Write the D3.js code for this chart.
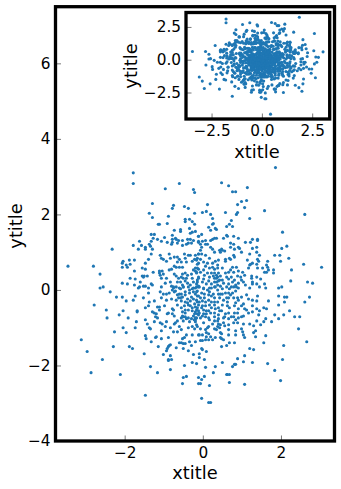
<!DOCTYPE html>
<html><head><meta charset="utf-8">
<script src="https://cdnjs.cloudflare.com/ajax/libs/d3/7.8.5/d3.min.js"></script>
<style>html,body{margin:0;padding:0;background:#fff}svg{display:block}text{font-family:"DejaVu Sans",sans-serif;fill:#000}</style>
</head><body><svg id="c" width="341" height="489"></svg>
<script>
const upperLeft=[[-1.78,3.10],[-1.78,2.82],[-0.96,2.68],[-0.60,2.82],[-0.24,2.66],[-0.21,2.58],[-1.29,2.29],[-0.75,2.24],[-0.78,2.16],[-0.47,2.21],[-0.37,2.16],[-1.37,2.03],[-0.21,2.03],[-1.29,1.92],[-0.88,1.95],[-1.14,1.74],[-1.11,1.74],[-0.91,1.76],[-0.45,1.87],[-0.45,1.81],[-0.34,1.87],[-0.27,1.81],[-0.21,1.74],[-0.34,1.63],[-0.57,1.60],[-0.57,1.55],[-0.73,1.58],[-0.19,1.55],[-0.27,1.53],[-0.32,1.50],[-0.11,1.42],[-1.32,1.47],[-1.24,1.47],[-0.78,1.45],[-1.27,1.37],[-1.16,1.34],[-1.06,1.29],[-0.98,1.39],[-0.78,1.34],[-0.70,1.37],[-0.68,1.34],[-0.78,1.26],[-0.80,1.21],[-0.62,1.31],[-0.52,1.31],[-0.39,1.34],[-0.32,1.34],[-0.24,1.31],[-0.11,1.29],[-1.62,1.29],[-1.57,1.18],[-1.78,1.18],[-1.65,1.08],[-1.47,1.13],[-1.47,1.08],[-1.37,1.21],[-1.34,1.16],[-1.32,1.29],[-1.29,1.08],[-0.91,1.26],[-0.65,1.24],[-0.52,1.18],[-0.42,1.21],[-0.37,1.24],[-0.29,1.24],[-2.32,1.08],[-1.32,0.95],[-1.39,0.81],[-1.47,0.71],[-1.09,0.92],[-1.06,0.84],[-1.01,0.81],[-0.93,0.76],[-0.86,0.95],[-0.83,0.84],[-0.73,0.87],[-0.65,0.87],[-0.60,0.81],[-0.47,0.95],[-0.37,0.92],[-0.32,0.92],[-0.45,0.84],[-0.19,0.92],[-0.11,0.95],[-0.21,0.81],[-0.27,0.76],[-0.14,0.84],[-0.65,0.74],[-0.55,0.74],[-0.42,0.74],[-0.52,0.60],[-0.73,0.63],[-0.68,0.60],[-0.60,0.60],[-0.80,0.55],[-0.86,0.53],[-0.14,0.68],[-0.19,0.58],[-0.24,0.53],[-0.16,0.47],[-0.11,0.55],[-2.04,0.76],[-2.06,0.71],[-2.06,0.60],[-1.96,0.66],[-1.93,0.60],[-1.88,0.79],[-1.86,0.68],[-1.75,0.79],[-1.75,0.50],[-1.55,0.58],[-1.47,0.55],[-3.45,0.63],[-2.80,0.63],[-2.63,0.42],[-2.63,0.05],[-2.55,0.08],[-1.86,0.31],[-1.73,0.29],[-1.60,0.21],[-1.55,0.37],[-1.50,0.37],[-1.42,0.37],[-1.52,0.34],[-2.06,0.18],[-1.93,0.16],[-1.75,0.13],[-1.65,0.05],[-1.62,0.08],[-1.52,0.10],[-1.47,0.10],[-1.39,0.05],[-1.32,0.16],[-1.29,0.13],[-1.27,0.47],[-1.11,0.50],[-1.11,0.45],[-1.09,0.39],[-1.04,0.50],[-1.01,0.42],[-1.06,0.31],[-0.93,0.31],[-0.96,0.18],[-0.83,0.21],[-1.06,0.08],[-0.73,0.42],[-0.68,0.37],[-0.62,0.31],[-0.65,0.21],[-0.55,0.34],[-0.52,0.42],[-0.45,0.45],[-0.39,0.39],[-0.42,0.31],[-0.50,0.31],[-0.57,0.21],[-0.45,0.24],[-0.52,0.13],[-0.50,0.08],[-0.39,0.18],[-0.29,0.42],[-0.27,0.31],[-0.19,0.50],[-0.11,0.34],[-0.14,0.26],[-0.24,0.21],[-0.16,0.16],[-0.32,0.13],[-0.60,0.05],[-0.75,0.08],[-0.80,0.10],[-0.11,0.08],[-0.24,0.05]];
const upperRight=[[1.86,3.24],[0.48,2.84],[0.66,2.76],[1.14,2.71],[0.76,2.60],[0.84,2.60],[1.12,2.37],[0.99,2.34],[0.89,2.26],[0.12,2.26],[1.07,2.18],[1.58,2.10],[-0.01,2.05],[0.09,2.08],[0.20,2.00],[0.58,2.05],[0.89,2.05],[0.86,2.00],[2.61,2.00],[0.25,1.89],[1.20,1.89],[0.73,1.84],[0.27,1.76],[0.25,1.74],[0.68,1.74],[0.61,1.68],[0.76,1.68],[0.15,1.66],[0.20,1.58],[0.32,1.63],[0.35,1.60],[2.04,1.53],[0.61,1.45],[0.63,1.42],[0.79,1.42],[-0.03,1.47],[-0.11,1.42],[0.91,1.37],[0.53,1.37],[0.25,1.34],[0.30,1.37],[0.35,1.37],[0.20,1.31],[0.07,1.31],[-0.01,1.29],[1.27,1.34],[1.40,1.34],[1.40,1.31],[1.09,1.26],[1.22,1.26],[0.71,1.24],[0.79,1.21],[-0.11,1.26],[-0.06,1.21],[0.07,1.21],[0.12,1.21],[0.20,1.13],[0.25,1.08],[-0.03,1.13],[0.71,1.13],[0.81,1.08],[0.91,1.13],[0.94,1.10],[2.15,1.16],[2.02,1.10],[1.27,1.10],[1.38,1.13],[0.30,1.00],[0.43,1.05],[0.48,1.08],[0.50,1.05],[0.56,1.03],[0.45,1.00],[-0.06,1.05],[-0.03,0.95],[-0.11,0.95],[0.07,0.92],[0.79,0.92],[0.68,0.84],[0.58,0.81],[0.71,0.81],[0.81,0.87],[0.99,1.00],[1.20,0.95],[1.38,1.00],[1.45,0.92],[1.84,0.92],[1.97,0.92],[2.20,0.84],[2.58,0.68],[3.04,0.60],[2.27,0.53],[1.66,0.76],[1.99,0.76],[1.14,0.79],[1.40,0.81],[1.43,0.76],[1.38,0.68],[1.27,0.71],[1.20,0.66],[1.17,0.58],[1.22,0.68],[1.40,0.58],[1.53,0.58],[1.63,0.66],[1.66,0.60],[1.58,0.47],[1.63,0.47],[1.68,0.53],[1.81,0.53],[1.81,0.45],[2.25,0.24],[2.68,0.21],[2.81,0.18],[2.02,0.08],[1.94,0.05],[1.58,0.16],[1.48,0.29],[1.25,0.37],[1.25,0.31],[1.38,0.34],[1.27,0.21],[1.27,0.16],[1.38,0.16],[1.20,0.05],[1.45,0.08],[1.61,0.05],[1.09,0.13],[1.07,0.39],[1.02,0.47],[0.91,0.50],[0.86,0.60],[0.76,0.60],[0.71,0.53],[0.66,0.47],[0.58,0.76],[0.40,0.79],[0.32,0.76],[0.25,0.71],[0.12,0.71],[0.02,0.74],[0.07,0.63],[0.25,0.60],[0.38,0.66],[0.38,0.58],[0.50,0.58],[-0.11,0.71],[-0.14,0.58],[-0.06,0.47],[0.12,0.45],[0.30,0.45],[0.35,0.39],[0.40,0.45],[0.45,0.37],[0.43,0.26],[0.35,0.31],[0.27,0.37],[0.17,0.34],[0.04,0.39],[-0.11,0.31],[0.02,0.29],[0.15,0.24],[0.30,0.21],[-0.14,0.21],[0.53,0.18],[0.66,0.29],[0.61,0.34],[0.73,0.34],[0.89,0.37],[0.76,0.21],[0.84,0.13],[0.91,0.18],[0.86,0.08],[0.73,0.08],[0.61,0.08],[0.45,0.10],[0.30,0.08],[0.17,0.05],[0.02,0.05],[-0.11,0.10]];
const lowerLeft=[[-2.37,-0.05],[-2.21,-0.19],[-2.06,-0.19],[-1.96,-0.29],[-1.78,-0.27],[-1.73,-0.16],[-1.52,-0.21],[-2.78,-0.40],[-2.47,-0.53],[-2.04,-0.55],[-2.14,-0.66],[-2.45,-0.74],[-1.91,-0.74],[-1.68,-0.55],[-1.68,-0.58],[-1.47,-0.47],[-1.39,-0.42],[-1.37,-0.32],[-1.24,-0.29],[-1.39,-0.08],[-1.16,-0.45],[-1.11,-0.45],[-1.11,-0.53],[-1.29,-0.58],[-1.24,-0.61],[-1.19,-0.63],[-1.21,-0.71],[-1.16,-0.74],[-1.47,-0.79],[-1.70,-0.84],[-1.42,-0.90],[-1.37,-1.00],[-1.34,-1.03],[-1.73,-1.00],[-1.24,-0.84],[-1.09,-0.87],[-1.04,-0.90],[-0.93,-0.84],[-0.96,-0.97],[-0.83,-1.00],[-1.06,-1.08],[-2.04,-1.00],[-2.26,-1.11],[-1.96,-1.13],[-1.47,-1.21],[-1.45,-1.29],[-1.32,-1.37],[-1.21,-1.26],[-1.19,-1.24],[-1.06,-1.29],[-0.88,-1.26],[-0.75,-1.11],[-0.65,-1.11],[-0.55,-1.05],[-0.70,-0.87],[-0.65,-0.82],[-0.73,-0.90],[-0.60,-0.97],[-3.11,-1.32],[-2.96,-1.63],[-2.57,-1.84],[-2.86,-2.19],[-2.11,-2.24],[-2.29,-1.50],[-1.88,-1.50],[-1.80,-1.55],[-1.50,-1.69],[-1.34,-2.03],[-1.16,-2.19],[-1.47,-2.79],[-1.14,-1.50],[-1.01,-1.71],[-0.93,-1.61],[-0.91,-1.55],[-0.88,-1.50],[-0.86,-1.47],[-0.83,-1.45],[-0.83,-1.74],[-0.88,-1.84],[-0.88,-1.87],[-0.80,-1.84],[-0.83,-2.11],[-0.68,-1.53],[-0.60,-1.40],[-0.55,-1.40],[-0.50,-1.42],[-0.45,-1.42],[-0.50,-1.55],[-0.37,-1.61],[-0.34,-1.37],[-0.29,-1.47],[-0.19,-1.37],[-0.52,-1.29],[-0.47,-1.26],[-0.42,-1.19],[-0.27,-1.19],[-0.11,-1.19],[-0.24,-1.71],[-0.09,-1.69],[-0.27,-1.92],[-0.16,-1.95],[-0.47,-2.00],[-0.50,-2.32],[-0.42,-2.29],[-0.52,-2.48],[-0.11,-2.32],[-0.11,-2.48],[-0.09,-1.79],[-0.37,-1.00],[-0.27,-0.97],[-0.21,-1.03],[-0.14,-0.97],[-0.55,-0.74],[-0.50,-0.71],[-0.42,-0.76],[-0.34,-0.84],[-0.50,-0.82],[-0.19,-0.79],[-0.24,-0.69],[-0.16,-0.74],[-0.55,-0.47],[-0.75,-0.53],[-0.78,-0.63],[-0.73,-0.69],[-0.88,-0.61],[-0.91,-0.63],[-0.98,-0.42],[-0.78,-0.50],[-0.65,-0.40],[-0.62,-0.21],[-0.57,-0.21],[-0.80,-0.24],[-0.93,-0.27],[-1.06,-0.21],[-1.01,-0.11],[-0.93,-0.11],[-1.09,-0.05],[-0.86,-0.08],[-0.78,0.00],[-0.70,-0.03],[-0.60,-0.11],[-0.45,-0.05],[-0.34,-0.08],[-0.52,-0.19],[-0.39,-0.24],[-0.29,-0.19],[-0.19,-0.11],[-0.11,-0.16],[-0.39,-0.34],[-0.32,-0.42],[-0.21,-0.37],[-0.14,-0.47],[-0.37,-0.53],[-0.27,-0.55],[-0.52,-0.58],[-0.45,-0.61],[-0.11,-0.55],[-0.19,-0.58],[-0.14,-0.32]];
const lowerRight=[[1.94,-0.16],[2.09,-0.19],[2.15,-0.19],[2.73,-0.19],[2.61,-0.32],[2.09,-0.32],[1.94,-0.40],[1.68,-0.29],[2.22,-0.55],[1.84,-0.66],[2.07,-0.66],[2.35,-0.71],[2.48,-0.71],[1.94,-0.76],[1.76,-0.84],[1.61,-0.76],[1.56,-0.84],[1.48,-0.92],[1.38,-0.82],[1.30,-0.95],[1.20,-0.90],[1.04,-0.90],[1.35,-1.08],[1.30,-1.13],[1.35,-1.24],[1.61,-1.21],[2.45,-1.03],[2.66,-1.37],[2.07,-1.47],[1.56,-1.40],[1.07,-1.26],[1.04,-1.19],[1.02,-1.11],[0.99,-1.03],[0.84,-1.08],[0.84,-1.19],[0.66,-0.92],[0.66,-1.05],[0.66,-1.19],[0.68,-1.40],[0.81,-1.40],[0.61,-1.47],[0.48,-1.50],[1.20,-1.55],[1.30,-1.58],[1.07,-1.74],[0.89,-1.82],[1.04,-1.90],[1.27,-1.92],[0.84,-1.97],[0.81,-1.97],[0.76,-2.03],[1.66,-1.95],[2.04,-1.84],[1.84,-2.13],[1.99,-2.40],[1.07,-2.50],[0.68,-2.45],[0.61,-2.24],[0.63,-2.24],[0.68,-2.24],[0.50,-1.92],[0.32,-2.03],[0.27,-2.19],[0.07,-2.05],[0.04,-1.84],[0.09,-1.63],[-0.01,-1.58],[-0.03,-1.55],[0.04,-2.29],[-0.03,-2.37],[-0.06,-2.48],[0.17,-2.53],[-0.03,-2.87],[0.15,-2.98],[0.20,-2.98],[-0.06,-1.34],[-0.01,-1.34],[0.07,-1.32],[0.15,-1.32],[0.25,-1.32],[0.32,-1.26],[0.45,-1.26],[0.48,-1.29],[0.53,-1.32],[-0.09,-1.19],[-0.01,-1.19],[0.09,-1.13],[0.15,-1.16],[0.09,-1.24],[0.20,-1.24],[0.48,-1.16],[0.45,-1.13],[-0.06,-1.03],[0.07,-1.05],[0.12,-1.00],[0.15,-0.97],[0.30,-1.03],[0.35,-1.05],[0.38,-0.97],[0.40,-0.90],[0.45,-0.92],[0.43,-1.00],[0.25,-0.90],[0.56,-0.95],[0.38,-0.82],[0.17,-0.79],[0.02,-0.87],[-0.16,-0.92],[-0.19,-0.84],[-0.22,-0.79],[-0.01,-0.69],[0.07,-0.71],[0.02,-0.63],[-0.16,-0.53],[-0.01,-0.42],[0.09,-0.55],[0.15,-0.55],[-0.11,-0.40],[0.02,-0.53],[0.32,-0.50],[0.40,-0.47],[0.30,-0.32],[0.17,-0.40],[0.07,-0.32],[0.04,-0.21],[-0.06,-0.21],[-0.14,-0.16],[0.17,-0.05],[0.15,-0.13],[0.27,-0.11],[0.30,-0.21],[0.43,-0.21],[0.45,-0.11],[0.61,-0.21],[0.66,-0.21],[0.58,-0.08],[0.50,0.03],[0.68,0.03],[0.79,0.08],[0.91,0.05],[0.89,-0.21],[0.99,-0.19],[0.91,-0.27],[1.12,-0.13],[1.27,-0.27],[1.40,-0.16],[1.38,-0.29],[1.17,-0.24],[1.04,-0.37],[0.99,-0.42],[1.07,-0.50],[1.12,-0.53],[1.27,-0.42],[1.17,-0.61],[1.27,-0.58],[1.38,-0.50],[1.43,-0.66],[1.45,-0.55],[1.56,-0.47],[1.63,-0.50],[0.84,-0.34],[0.81,-0.42],[0.91,-0.50],[0.89,-0.61],[0.81,-0.61],[0.79,-0.71],[0.84,-0.79],[0.91,-0.74],[1.04,-0.69],[0.99,-0.71],[0.89,-0.87],[0.63,-0.42],[0.68,-0.47],[0.48,-0.55],[0.58,-0.63],[0.56,-0.71],[0.53,-0.74],[0.43,-0.55],[0.30,-0.71],[-0.14,-0.63],[-0.19,-0.74]];
const coreLeft=[[-0.75,0.05],[-0.68,0.08],[-0.57,0.03],[-0.50,0.08],[-0.37,0.08],[-0.27,0.03],[-0.16,0.08],[-0.73,-0.05],[-0.65,-0.13],[-0.55,-0.11],[-0.45,-0.13],[-0.34,0.00],[-0.24,-0.05],[-0.14,-0.03],[-0.68,-0.27],[-0.55,-0.29],[-0.45,-0.32],[-0.32,-0.29],[-0.24,-0.24],[-0.47,-0.42],[-0.37,-0.40],[-0.27,-0.47],[-0.19,-0.45],[-0.45,-0.53],[-0.52,-0.69],[-0.45,-0.71],[-0.37,-0.74],[-0.29,-0.76],[-0.21,-0.63],[-0.11,-0.66]];
const coreLowerRight=[[-0.19,0.05],[-0.09,0.08],[0.02,0.03],[0.12,0.00],[0.22,0.05],[0.32,0.08],[-0.16,-0.05],[-0.03,-0.08],[0.04,-0.11],[0.22,-0.16],[0.38,0.00],[0.40,-0.11],[-0.16,-0.27],[-0.09,-0.32],[-0.01,-0.29],[0.15,-0.27],[0.22,-0.32],[0.38,-0.32],[-0.03,-0.47],[0.07,-0.42],[0.22,-0.47],[0.30,-0.40],[-0.09,-0.61],[0.09,-0.63],[0.20,-0.61],[0.30,-0.61],[0.40,-0.66],[-0.06,-0.74],[0.15,-0.74],[0.40,-0.76],[0.30,-0.82],[0.53,-0.87],[0.66,-0.76],[0.79,-0.87],[0.66,-0.61],[0.73,-0.71],[0.76,-0.08],[0.71,-0.13],[0.79,-0.21],[0.84,-0.03],[0.66,-0.08],[0.50,-0.11],[0.53,-0.27],[0.50,-0.40],[0.63,-0.32]];
const coreUpperRight=[[-0.16,0.79],[-0.06,0.81],[0.17,0.84],[-0.16,0.45],[0.02,0.53],[0.17,0.58],[0.30,0.55],[-0.01,0.21],[0.09,0.16],[0.22,0.16],[0.35,0.21],[0.38,0.13],[0.50,0.26],[0.30,0.31],[0.22,0.45],[0.38,0.34],[0.40,0.24],[0.58,0.45],[0.66,0.16],[0.79,0.47],[0.81,0.26],[0.97,0.34],[0.99,0.26],[1.04,0.21]];
const outliers=[[0.43,-4.15]];

const allPoints=[...upperLeft,...upperRight,...lowerLeft,...lowerRight,...coreLeft,...coreLowerRight,...coreUpperRight,...outliers];
const mainXLim=[-3.77,3.37], mainYLim=[-4,7.5];
const insetXLim=[-3.77,3.37], insetYLim=[-4.52,3.6];
const mainXTicks=[-2,0,2], mainYTicks=[-4,-2,0,2,4,6];
const insetXTicks=[-2.5,0,2.5], insetYTicks=[-2.5,0,2.5];
const minus=s=>s.replace("-","\u2212");

const svg=d3.select("#c");
svg.append("defs").append("clipPath").attr("id","mainClip").append("rect")
  .attr("x",55.5).attr("y",6.7).attr("width",279).attr("height",434.3);

function panel(o){
  const x=d3.scaleLinear().domain(o.xLim).range([o.l,o.r]);
  const y=d3.scaleLinear().domain(o.yLim).range([o.b,o.t]);
  const g=svg.append("g");
  g.append("rect").attr("x",o.l).attr("y",o.t).attr("width",o.r-o.l).attr("height",o.b-o.t).attr("fill","#fff");
  const pts=g.append("g"); if(o.clip) pts.attr("clip-path","url(#"+o.clip+")");
  pts.selectAll("circle").data(allPoints).join("circle")
    .attr("cx",d=>x(d[0])).attr("cy",d=>y(d[1])).attr("r",1.55).attr("fill","#1f77b4");
  const ax=g.append("g").attr("transform",`translate(0,${o.b})`)
    .call(d3.axisBottom(x).tickValues(o.xTicks).tickFormat(v=>minus(d3.format(o.fmt)(v))).tickSize(-5.5).tickPadding(o.pad));
  const ay=g.append("g").attr("transform",`translate(${o.l},0)`)
    .call(d3.axisLeft(y).tickValues(o.yTicks).tickFormat(v=>minus(d3.format(o.fmt)(v))).tickSize(-5.5).tickPadding(o.pad));
  [ax,ay].forEach(a=>{a.select(".domain").remove();
    a.selectAll(".tick line").attr("stroke","#555").attr("stroke-width",0.8);
    a.selectAll("text").attr("font-size",15.3).attr("font-family","'DejaVu Sans',sans-serif").attr("fill","#000");});
  ax.selectAll("text").attr("dy",null).attr("y",0).attr("dominant-baseline","hanging").attr("dy",o.xTickDy);
  g.append("rect").attr("x",o.l).attr("y",o.t).attr("width",o.r-o.l).attr("height",o.b-o.t)
    .attr("fill","none").attr("stroke","#000").attr("stroke-width",3.3);
  g.append("text").attr("x",o.xTitleX).attr("y",o.xTitleY).attr("text-anchor","middle").attr("font-size",17.8).text("xtitle");
  g.append("text").attr("transform",`translate(${o.yTitleX},${o.yTitleY}) rotate(-90)`).attr("text-anchor","middle").attr("font-size",17.8).text("ytitle");
}
panel({l:55.5,r:334.5,t:6.7,b:441,xLim:mainXLim,yLim:mainYLim,xTicks:mainXTicks,yTicks:mainYTicks,fmt:"d",pad:5,xTickDy:"5.5px",clip:"mainClip",xTitleX:195,xTitleY:479,yTitleX:22,yTitleY:226});
panel({l:186,r:329.7,t:12.5,b:119,xLim:insetXLim,yLim:insetYLim,xTicks:insetXTicks,yTicks:insetYTicks,fmt:".1f",pad:5,xTickDy:"5.5px",xTitleX:257,xTitleY:158,yTitleX:137,yTitleY:66});
</script></body></html>
